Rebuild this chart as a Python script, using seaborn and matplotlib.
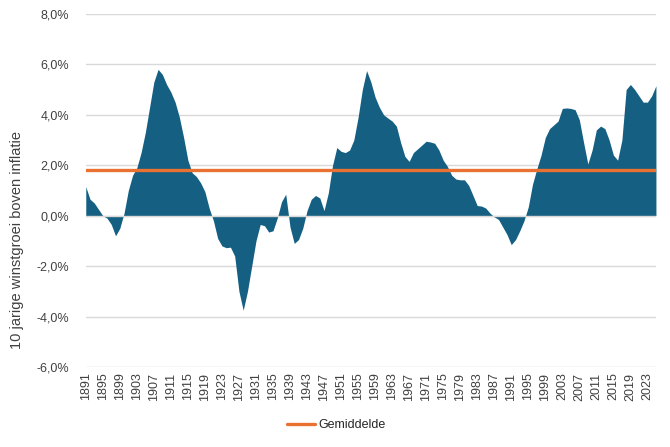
import numpy as np
import pandas as pd
import matplotlib.pyplot as plt
import seaborn as sns

sns.set_theme(style='white')
plt.rcParams['font.family'] = ['Liberation Sans', 'DejaVu Sans']

# Jaren en 10-jarige reële winstgroei (%)
jaren = list(range(1891, 2026))
winstgroei = [
    1.15, 0.65, 0.5, 0.25, 0.0, -0.1, -0.35, -0.8, -0.5, 0.1,
    1.0, 1.6, 1.9, 2.5, 3.3, 4.3, 5.3, 5.8, 5.6, 5.2,
    4.9, 4.5, 3.9, 3.1, 2.2, 1.7, 1.55, 1.3, 0.95, 0.3,
    -0.2, -0.9, -1.2, -1.27, -1.25, -1.6, -3.0, -3.75, -3.0, -2.0,
    -1.0, -0.35, -0.4, -0.65, -0.6, -0.1, 0.55, 0.85, -0.45, -1.1,
    -0.95, -0.5, 0.2, 0.65, 0.8, 0.7, 0.2, 0.9, 2.0, 2.7,
    2.55, 2.5, 2.6, 3.0, 3.9, 5.0, 5.75, 5.3, 4.7, 4.3,
    4.0, 3.87, 3.75, 3.55, 2.9, 2.35, 2.15, 2.5, 2.65, 2.8,
    2.95, 2.92, 2.87, 2.6, 2.2, 1.95, 1.6, 1.45, 1.42, 1.42,
    1.2, 0.8, 0.4, 0.38, 0.3, 0.1, -0.05, -0.15, -0.45, -0.75,
    -1.15, -0.95, -0.6, -0.2, 0.35, 1.25, 1.85, 2.4, 3.1, 3.45,
    3.6, 3.75, 4.25, 4.27, 4.25, 4.2, 3.8, 2.9, 2.05, 2.6,
    3.4, 3.55, 3.45, 3.0, 2.4, 2.2, 3.0, 5.0, 5.2, 5.0,
    4.75, 4.5, 4.5, 4.75, 5.15,
]
gemiddelde = 1.8

df = pd.DataFrame({'jaar': jaren, 'groei': winstgroei})
df['gemiddelde'] = gemiddelde

blauw = '#156082'
oranje = '#E97132'

fig = plt.figure(figsize=(6.7, 4.47), dpi=100)
ax = fig.add_axes([0.128, 0.179, 0.851, 0.79])

ax.fill_between(df['jaar'], 0, df['groei'], color=blauw, linewidth=0, zorder=2)
sns.lineplot(data=df, x='jaar', y='gemiddelde', color=oranje, linewidth=2.4,
             label='Gemiddelde', ax=ax, zorder=4)
ax.axhline(0, color='#D9D9D9', linewidth=1.0, zorder=3)

ax.set_xlim(1891, 2025)
ax.set_ylim(-6, 8)
ax.set_yticks(np.arange(-6, 8.1, 2))
ax.set_yticklabels([f'{v:.1f}%'.replace('.', ',') for v in np.arange(-6, 8.1, 2)],
                   fontsize=9, color='#404040')
ax.set_xticks(range(1891, 2025, 4))
ax.set_xticklabels([str(j) for j in range(1891, 2025, 4)], rotation=90,
                   fontsize=9, color='#404040')
ax.tick_params(axis='y', length=0, pad=12)
ax.tick_params(axis='x', length=0, pad=4)
ax.grid(axis='y', color='#D9D9D9', linewidth=1.0, zorder=0)
ax.set_axisbelow(True)
for s in ax.spines.values():
    s.set_visible(False)

ax.set_xlabel('')
ax.set_ylabel('10 jarige winstgroei boven inflatie', fontsize=10.5, color='#404040')
ax.yaxis.set_label_coords(-0.108, 0.36)

ax.legend(loc='center', bbox_to_anchor=(0.44, -0.165), frameon=False,
          fontsize=9, handlelength=2.2, handletextpad=0.3)

fig.savefig('out.png', dpi=100)
